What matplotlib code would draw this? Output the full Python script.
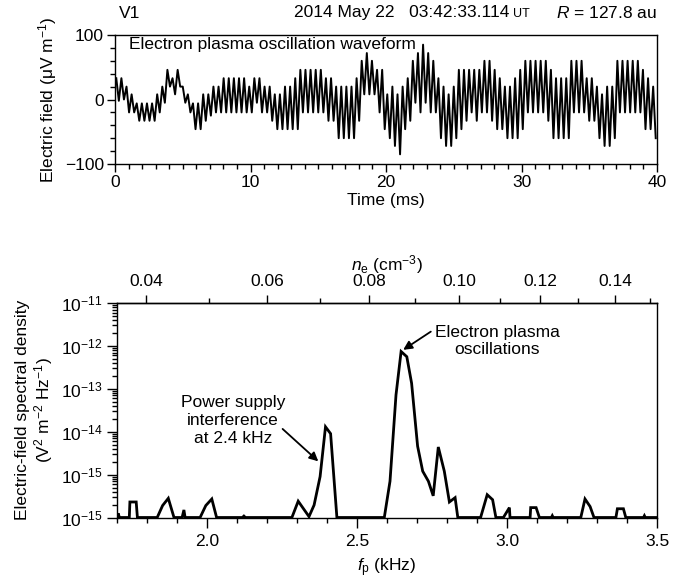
import numpy as np
import matplotlib
matplotlib.use('Agg')
import matplotlib.pyplot as plt
from matplotlib.ticker import MultipleLocator, FixedLocator, LogLocator, NullFormatter, FixedFormatter

plt.rcParams.update({
    'font.family': ['Liberation Sans', 'DejaVu Sans'],
    'font.size': 12.5,
    'mathtext.fontset': 'custom',
    'mathtext.rm': 'Liberation Sans',
    'mathtext.it': 'Liberation Sans:italic',
    'mathtext.bf': 'Liberation Sans:bold',
    'mathtext.default': 'regular',
    'axes.linewidth': 1.0,
})

# ---------------- Waveform (per-cycle maxima / minima, uV/m) ----------------
duration_ms = 40.0
peaks = [33, 33, 20, 8, -6, -6, -6, -6, 8, 20,
         46, 33, 46, 20, 8, -6, -6, 8, 8, 20,
         20, 33, 33, 33, 33, 33, 20, 33, 33, 20,
         20, 8, 8, 20, 20, 33, 46, 46, 46, 46,
         46, 33, 33, 20, 20, 20, 20, 33, 60, 72,
         60, 46, 46, 8, 20, 8, 20, 33, 60, 72,
         85, 72, 60, 33, 20, 8, 20, 46, 46, 46,
         46, 46, 60, 60, 46, 33, 20, 20, 33, 46,
         60, 60, 60, 60, 60, 46, 33, 33, 33, 60,
         60, 60, 33, 33, 20, 8, 20, 20, 60, 60,
         60, 60, 60, 46, 33, 20]
troughs = [-2, 0, -20, -20, -33, -33, -33, -33, -20, -5,
           20, 8, 20, -5, -20, -46, -46, -33, -25, -20,
           -20, -20, -20, -20, -20, -20, -20, -5, -20, -20,
           -33, -46, -46, -46, -46, -46, -20, -20, -20, -20,
           -20, -33, -33, -60, -60, -60, -60, -33, 8, 8,
           8, -20, -46, -60, -72, -85, -46, -33, -5, -20,
           -5, -20, -20, -60, -72, -72, -60, -46, -33, -20,
           -33, -20, -20, -33, -46, -46, -60, -60, -60, -46,
           -20, -20, -20, -20, -33, -60, -60, -60, -60, -20,
           -20, -20, -33, -33, -60, -72, -72, -60, -20, -20,
           -20, -20, -20, -46, -46, -60]

# ---------------- Spectrum ----------------
freq_khz = [1.700, 1.704, 1.708,
            1.741, 1.743, 1.764, 1.768,
            1.834, 1.852, 1.871, 1.890,
            1.917, 1.923, 1.927,
            1.977, 1.996, 2.016, 2.032,
            2.118, 2.123, 2.128,
            2.283, 2.304, 2.340, 2.357, 2.377, 2.395, 2.412, 2.433,
            2.591, 2.610, 2.630, 2.647, 2.666, 2.682, 2.702, 2.719, 2.738,
            2.754, 2.771, 2.791, 2.808, 2.827, 2.836,
            2.912, 2.934, 2.952, 2.963,
            2.988, 3.008, 3.010,
            3.077, 3.079, 3.097, 3.108,
            3.148, 3.151, 3.154,
            3.246, 3.260, 3.277, 3.290,
            3.363, 3.368, 3.388, 3.396,
            3.455, 3.458, 3.461, 3.500]
psd = [1e-16, 1.25e-16, 1e-16,
       1e-16, 2.3e-16, 2.3e-16, 1e-16,
       1e-16, 1.9e-16, 2.8e-16, 1e-16,
       1e-16, 1.5e-16, 1e-16,
       1e-16, 1.9e-16, 2.7e-16, 1e-16,
       1e-16, 1.08e-16, 1e-16,
       1e-16, 2.4e-16, 1.05e-16, 1.95e-16, 9e-16, 1.3e-14, 9e-15, 1e-16,
       1e-16, 7e-16, 7.2e-14, 7.4e-13, 5.6e-13, 1.35e-13, 4.6e-15, 1.2e-15, 7e-16,
       3.2e-16, 4.4e-15, 1.2e-15, 2.3e-16, 2.9e-16, 1e-16,
       1e-16, 3.4e-16, 2.6e-16, 1e-16,
       1e-16, 1.7e-16, 1e-16,
       1e-16, 1.7e-16, 1.7e-16, 1e-16,
       1e-16, 1.1e-16, 1e-16,
       1e-16, 2.7e-16, 1.8e-16, 1e-16,
       1e-16, 1.6e-16, 1.6e-16, 1e-16,
       1e-16, 1.1e-16, 1e-16, 1e-16]

ne_major = [0.04, 0.06, 0.08, 0.10, 0.12, 0.14]
ne_minor = [0.05, 0.07, 0.09, 0.11, 0.13, 0.15]
psd_ticks = [1e-16, 1e-15, 1e-14, 1e-13, 1e-12, 1e-11]
psd_labels = [r'$10^{-15}$', r'$10^{-15}$', r'$10^{-14}$', r'$10^{-13}$', r'$10^{-12}$', r'$10^{-11}$']

W, H = 681, 582
fig = plt.figure(figsize=(W / 100, H / 100), dpi=100)

# ---------------- Top panel ----------------
ax1 = fig.add_axes([115 / W, 1 - 164 / H, 542 / W, 129 / H])
n = len(peaks)
vals = np.empty(2 * n)
vals[0::2] = peaks
vals[1::2] = troughs
t = (np.arange(2 * n) + 0.5) * duration_ms / (2 * n)
ax1.plot(t, vals, color='k', lw=1.4)
ax1.set_xlim(0, 40)
ax1.set_ylim(-100, 100)
ax1.xaxis.set_major_locator(MultipleLocator(10))
ax1.xaxis.set_minor_locator(MultipleLocator(1))
ax1.yaxis.set_major_locator(MultipleLocator(100))
ax1.yaxis.set_minor_locator(MultipleLocator(20))
ax1.tick_params(which='both', direction='out', top=False, right=False)
ax1.tick_params(which='major', length=6, width=1, pad=2)
ax1.tick_params(which='minor', length=3.5, width=1)
ax1.set_xlabel('Time (ms)', labelpad=2)
ax1.set_ylabel(r'Electric field ($\mu$V m$^{-1}$)', labelpad=4)
ax1.text(0.026, 0.925, 'Electron plasma oscillation waveform', transform=ax1.transAxes,
         ha='left', va='center')

fig.text(119 / W, 1 - 13 / H, 'V1', ha='left', va='center')
fig.text(509 / W, 1 - 13 / H, '2014 May 22   03:42:33.114', ha='right', va='center')
fig.text(513 / W, 1 - 14 / H, 'UT', ha='left', va='center', fontsize=9)
fig.text(657 / W, 1 - 13 / H, r'$\mathit{R}$ = 127.8 au', ha='right', va='center')

# ---------------- Bottom panel ----------------
ax2 = fig.add_axes([117 / W, 1 - 517.5 / H, 540 / W, 214.5 / H])
ax2.plot(freq_khz, psd, color='k', lw=2.0, solid_joinstyle='miter')
ax2.set_yscale('log')
ax2.set_xlim(1.7, 3.5)
ax2.set_ylim(1e-16, 1e-11)
ax2.yaxis.set_major_locator(FixedLocator(psd_ticks))
ax2.yaxis.set_major_formatter(FixedFormatter(psd_labels))
ax2.yaxis.set_minor_locator(LogLocator(base=10, subs=np.arange(2, 10)))
ax2.yaxis.set_minor_formatter(NullFormatter())
ax2.xaxis.set_major_locator(MultipleLocator(0.5))
ax2.xaxis.set_minor_locator(MultipleLocator(0.1))
ax2.xaxis.set_major_formatter(plt.FuncFormatter(lambda v, p: f'{v:.1f}'))
ax2.tick_params(which='both', direction='out', top=False, right=False)
ax2.tick_params(which='major', length=7, width=1)
ax2.tick_params(which='minor', length=3.5, width=1)
ax2.tick_params(axis='x', which='major', pad=5)
ax2.set_xlabel(r'$\mathit{f}_{\mathrm{p}}$ (kHz)', labelpad=5)
ax2.set_ylabel('Electric-field spectral density\n' + r'(V$^{2}$ m$^{-2}$ Hz$^{-1}$)',
               labelpad=4, linespacing=1.15)

sec = ax2.secondary_xaxis('top', functions=(lambda f: (np.asarray(f) / 8.98) ** 2,
                                             lambda ne: 8.98 * np.sqrt(np.clip(ne, 0, None))))
sec.xaxis.set_major_locator(FixedLocator(ne_major))
sec.xaxis.set_minor_locator(FixedLocator(ne_minor))
sec.xaxis.set_major_formatter(plt.FuncFormatter(lambda v, p: f'{v:.2f}'))
sec.tick_params(which='major', direction='out', length=6, width=1, pad=4)
sec.tick_params(which='minor', direction='out', length=3.5, width=1)
sec.set_xlabel(r'$\mathit{n}_{\mathrm{e}}$ (cm$^{-3}$)', labelpad=3)

# annotations
ax2.annotate('', xy=(2.654, 8.1e-13), xytext=(2.746, 2.15e-12),
             arrowprops=dict(arrowstyle='-|>', color='k', lw=1.3, mutation_scale=13,
                             shrinkA=0, shrinkB=0))
ax2.text(2.967, 1.3e-12, 'Electron plasma\noscillations', ha='center', va='center',
         linespacing=1.22)
ax2.annotate('', xy=(2.371, 2.04e-15), xytext=(2.252, 1.16e-14),
             arrowprops=dict(arrowstyle='-|>', color='k', lw=1.3, mutation_scale=13,
                             shrinkA=0, shrinkB=0))
ax2.text(2.087, 1.8e-14, 'Power supply\ninterference\nat 2.4 kHz', ha='center', va='center',
         linespacing=1.27)

fig.savefig('out.png', dpi=100)
